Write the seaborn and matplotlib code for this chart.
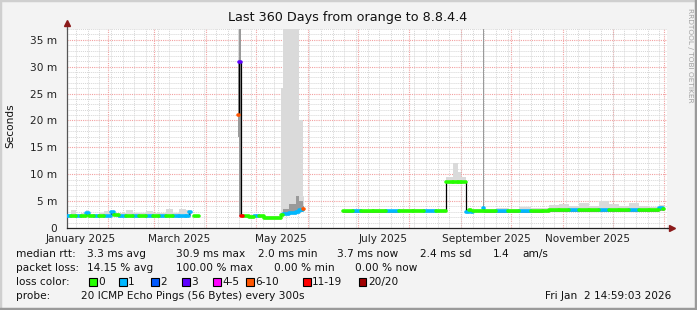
import numpy as np
import pandas as pd
import matplotlib
matplotlib.use("Agg")
import matplotlib.pyplot as plt
import matplotlib.dates as mdates
from matplotlib.ticker import MultipleLocator, FixedLocator
from matplotlib.patches import Rectangle
import seaborn as sns

sns.set_theme(style="white")
plt.rcParams['font.family'] = ['DejaVu Sans']

# ---------------- data ----------------
dates = ["2025-01-07", "2025-01-10", "2025-01-13", "2025-01-16", "2025-01-19", "2025-01-21",
         "2025-01-24", "2025-01-27", "2025-01-30", "2025-02-03", "2025-02-05", "2025-02-08",
         "2025-02-12", "2025-02-16", "2025-02-20", "2025-02-24", "2025-02-28", "2025-03-04",
         "2025-03-08", "2025-03-12", "2025-03-16", "2025-03-20", "2025-03-22", "2025-03-23",
         "2025-03-25", "2025-03-28",
         "2025-04-20", "2025-04-21", "2025-04-22", "2025-04-23", "2025-04-27", "2025-04-30",
         "2025-05-03", "2025-05-06", "2025-05-16", "2025-05-17", "2025-05-21", "2025-05-25",
         "2025-05-27", "2025-05-29", "2025-05-30",
         "2025-06-22", "2025-06-28", "2025-07-03", "2025-07-10", "2025-07-18", "2025-07-26",
         "2025-08-03", "2025-08-10", "2025-08-17", "2025-08-23", "2025-08-27", "2025-08-30",
         "2025-09-01", "2025-09-04", "2025-09-06", "2025-09-07", "2025-09-08", "2025-09-14",
         "2025-09-15", "2025-09-22", "2025-09-29", "2025-10-06", "2025-10-13", "2025-10-20",
         "2025-10-24", "2025-10-30", "2025-11-05", "2025-11-11", "2025-11-17", "2025-11-23",
         "2025-11-29", "2025-12-05", "2025-12-11", "2025-12-17", "2025-12-23", "2025-12-29",
         "2025-12-31", "2026-01-01"]

median_ms = [2.3, 2.3, 2.3, 2.3, 2.8, 2.3,
             2.3, 2.3, 2.3, 2.9, 2.4, 2.3,
             2.3, 2.3, 2.3, 2.3, 2.3, 2.3,
             2.3, 2.3, 2.3, 2.3, 3.0, np.nan,
             2.3, np.nan,
             21.0, 30.9, 2.3, 2.2, 2.1, 2.2,
             2.2, 1.9, 2.4, 2.6, 2.7, 2.9,
             3.3, 3.6, np.nan,
             3.1, 3.1, 3.1, 3.1, 3.1, 3.1,
             3.1, 3.1, 3.2, 8.6, 8.6, 8.6,
             8.6, 3.0, 3.3, 3.0, 3.1, 3.8,
             3.1, 3.1, 3.1, 3.1, 3.1, 3.1,
             3.3, 3.3, 3.3, 3.3, 3.3, 3.3,
             3.3, 3.3, 3.3, 3.3, 3.3, 3.7,
             3.5, np.nan]

loss_pings = [1, 0, 1, 0, 1, 0,
              1, 0, 1, 1, 0, 1,
              0, 1, 0, 1, 0, 1,
              0, 1, 1, 1, 1, 0,
              0, 0,
              6, 3, 12, 0, 0, 1,
              0, 0, 0, 1, 1, 1,
              1, 7, 0,
              0, 1, 0, 0, 1, 0,
              0, 1, 0, 0, 0, 0,
              0, 1, 0, 1, 0, 1,
              0, 1, 0, 1, 0, 0,
              0, 0, 1, 0, 0, 1,
              0, 0, 1, 0, 0, 1,
              0, 0]

smoke_lo = [2.2, 2.2, 2.2, 2.2, 2.2, 2.2,
            2.2, 2.2, 2.2, 2.2, 2.2, 2.2,
            2.2, 2.2, 2.2, 2.2, 2.2, 2.2,
            2.2, 2.2, 2.2, 2.2, 2.2, np.nan,
            2.2, np.nan,
            17.0, 2.3, 2.1, 2.1, 2.0, 2.0,
            2.0, 1.8, 2.3, 2.4, 2.6, 2.8,
            3.0, 3.2, np.nan,
            2.7, 2.8, 2.8, 2.8, 2.8, 2.9,
            2.9, 2.9, 2.9, 8.3, 8.3, 8.3,
            8.3, 2.8, 2.9, 2.8, 2.9, 3.0,
            2.8, 2.8, 2.8, 2.8, 2.8, 2.9,
            3.0, 3.0, 3.0, 3.0, 3.0, 3.0,
            3.0, 3.0, 3.0, 3.0, 3.0, 3.2,
            3.2, np.nan]

smoke_mid = [2.4, 2.4, 2.4, 2.4, 2.9, 2.4,
             2.4, 2.4, 2.4, 3.0, 2.5, 2.4,
             2.4, 2.4, 2.4, 2.4, 2.4, 2.4,
             2.4, 2.4, 2.4, 2.4, 3.1, np.nan,
             2.4, np.nan,
             31.0, 37.3, 2.4, 2.3, 2.2, 2.3,
             2.3, 2.0, 2.8, 3.5, 4.5, 6.0,
             5.0, 4.0, np.nan,
             3.2, 3.2, 3.2, 3.2, 3.2, 3.2,
             3.2, 3.2, 3.3, 8.8, 8.8, 8.8,
             8.8, 3.2, 3.4, 3.2, 3.2, 37.3,
             3.3, 3.2, 3.2, 3.3, 3.3, 3.3,
             3.5, 3.5, 3.5, 3.5, 3.5, 3.5,
             3.5, 3.5, 3.5, 3.5, 3.5, 3.9,
             3.7, np.nan]

smoke_hi = [2.6, 3.3, 2.6, 2.7, 3.4, 2.6,
            2.6, 2.7, 3.2, 3.0, 2.7, 2.7,
            3.3, 2.7, 2.7, 3.2, 2.8, 2.7,
            3.5, 2.8, 3.6, 3.4, 3.2, np.nan,
            2.5, np.nan,
            37.3, 37.3, 2.6, 2.5, 2.4, 2.5,
            2.4, 2.2, 26.0, 37.3, 37.3, 37.3,
            20.0, 6.0, np.nan,
            3.4, 3.5, 3.4, 3.5, 3.4, 3.5,
            3.6, 3.5, 3.6, 9.5, 12.0, 10.5,
            9.4, 3.6, 3.7, 3.5, 3.6, 37.3,
            3.6, 3.8, 3.6, 3.9, 3.7, 3.8,
            4.2, 4.4, 4.0, 4.6, 4.1, 5.0,
            4.4, 4.1, 4.7, 4.0, 3.9, 4.3,
            4.2, np.nan]

loss_labels = ["0", "1", "2", "3", "4-5", "6-10", "11-19", "20/20"]
loss_colors = ["#26ff00", "#00b8ff", "#0059ff", "#5e00ff", "#ff00ff", "#ff5500", "#ff0000", "#a00000"]

y_ticks_ms = [0, 5, 10, 15, 20, 25, 30, 35]
x_label_dates = ["2025-01-16", "2025-03-16", "2025-05-16", "2025-07-16", "2025-09-16", "2025-11-16"]
x_label_texts = ["January 2025", "March 2025", "May 2025", "July 2025", "September 2025", "November 2025"]

# ---------------- helpers ----------------
def loss_cat(n):
    if n <= 3:
        return loss_labels[n]
    if n <= 5:
        return "4-5"
    if n <= 10:
        return "6-10"
    if n <= 19:
        return "11-19"
    return "20/20"

t = pd.to_datetime(dates)
tn = mdates.date2num(t)
med = np.array(median_ms, dtype=float)
lo = np.array(smoke_lo, dtype=float)
mid = np.array(smoke_mid, dtype=float)
hi = np.array(smoke_hi, dtype=float)

rows = []
for i in range(len(dates) - 1):
    if np.isnan(med[i]):
        continue
    c = loss_cat(loss_pings[i])
    rows.append(dict(x=t[i], y=med[i], seg=i, cat=c))
    rows.append(dict(x=t[i + 1], y=med[i], seg=i, cat=c))
seg_df = pd.DataFrame(rows)

# ---------------- figure ----------------
W, H = 697, 310
fig = plt.figure(figsize=(W / 100, H / 100), dpi=100, facecolor="#f3f3f3")
ax = fig.add_axes([67 / W, (H - 228) / H, 600 / W, 199 / H])
ax.set_facecolor("white")

x0 = pd.Timestamp("2025-01-07 15:00")
x1 = pd.Timestamp("2026-01-02 15:00")
ax.set_xlim(x0, x1)
ax.set_ylim(0, 37.0)

# grid
grid_minor = "#d6d6d6"
grid_major = "#f2a0a0"
ax.yaxis.set_minor_locator(MultipleLocator(1))
ax.yaxis.set_major_locator(FixedLocator(y_ticks_ms))
ax.xaxis.set_minor_locator(mdates.WeekdayLocator(byweekday=mdates.MO))
ax.grid(which="minor", axis="both", color=grid_minor, linestyle=(0, (1, 1)), linewidth=0.7)
for v in y_ticks_ms[1:]:
    ax.axhline(v, color=grid_major, linestyle=(0, (1, 1)), linewidth=0.8, zorder=0.5)
for m in pd.date_range("2025-02-01", "2026-01-01", freq="MS"):
    ax.axvline(m, color=grid_major, linestyle=(0, (1, 1)), linewidth=0.8, zorder=0.5)

# smoke
valid = ~np.isnan(med[:-1])
widths = np.diff(tn)
ax.bar(tn[:-1][valid], (hi - lo)[:-1][valid], width=widths[valid], bottom=lo[:-1][valid],
       align="edge", color="#dadada", linewidth=0, zorder=1)
ax.bar(tn[:-1][valid], (mid - lo)[:-1][valid], width=widths[valid], bottom=lo[:-1][valid],
       align="edge", color="#9a9a9a", linewidth=0, zorder=1.1)

# median line
ax.step(t, med, where="post", color="black", linewidth=0.9, zorder=2)
sns.lineplot(data=seg_df, x="x", y="y", hue="cat", units="seg", estimator=None,
             palette=dict(zip(loss_labels, loss_colors)), linewidth=2.6, legend=False,
             ax=ax, zorder=3)

# axes styling
for s in ["top", "right"]:
    ax.spines[s].set_visible(False)
ax.spines["left"].set_color("#555555")
ax.spines["bottom"].set_color("#222222")
ax.spines["left"].set_linewidth(0.9)
ax.spines["bottom"].set_linewidth(0.9)
ax.plot([0, 0], [1, 1.03], transform=ax.transAxes, color="#555555", lw=0.9, clip_on=False)
ax.plot([1, 1.008], [0, 0], transform=ax.transAxes, color="#222222", lw=0.9, clip_on=False)
ax.plot([0], [1.03], marker="^", color="#8b1a1a", markersize=4, transform=ax.transAxes, clip_on=False)
ax.plot([1.008], [0], marker=">", color="#8b1a1a", markersize=4, transform=ax.transAxes, clip_on=False)

ax.set_yticklabels(["0" if v == 0 else f"{v} m" for v in y_ticks_ms])
ax.set_xticks(pd.to_datetime(x_label_dates))
ax.set_xticklabels(x_label_texts)
ax.tick_params(axis="both", which="both", length=0, labelsize=7.6, colors="#222222")
ax.tick_params(axis="x", pad=4)
ax.tick_params(axis="y", pad=7)
ax.set_xlabel("")
ax.set_ylabel("")

fs = 7.6
fig.text(348 / W, 1 - 18 / H, "Last 360 Days from orange to 8.8.4.4", ha="center", va="center",
         fontsize=9.2, color="#111111")
fig.text(10 / W, 1 - 126 / H, "Seconds", rotation=90, ha="center", va="center", fontsize=fs, color="#111111")
fig.text(690 / W, 1 - 8 / H, "RRDTOOL / TOBI OETIKER", rotation=-90, ha="center", va="top",
         fontsize=5.3, color="#a0a0a0")

def put(x, y, s, **kw):
    fig.text(x / W, 1 - y / H, s, ha="left", va="center", fontsize=fs, color="#111111", **kw)

put(16, 254, "median rtt:")
put(87, 254, "3.3 ms avg")
put(176, 254, "30.9 ms max")
put(258, 254, "2.0 ms min")
put(337, 254, "3.7 ms now")
put(420, 254, "2.4 ms sd")
put(493, 254, "1.4")
put(522, 254, "am/s")

put(16, 268, "packet loss:")
put(87, 268, "14.15 % avg")
put(176, 268, "100.00 % max")
put(274, 268, "0.00 % min")
put(355, 268, "0.00 % now")

put(16, 282, "loss color:")
sw_x = [89, 119, 151, 182, 213, 246, 303, 359]
for xs, lab, col in zip(sw_x, loss_labels, loss_colors):
    fig.patches.append(Rectangle((xs / W, 1 - 286 / H), 7.5 / W, 8 / H, transform=fig.transFigure,
                                 facecolor=col, edgecolor="black", linewidth=0.8))
    put(xs + 9, 282, lab)

put(16, 296, "probe:")
put(81, 296, "20 ICMP Echo Pings (56 Bytes) every 300s")
put(545, 296, "Fri Jan  2 14:59:03 2026")

# outer frame (3D-like border)
fig.patches.append(Rectangle((0, 0), 1, 1, transform=fig.transFigure, fill=False,
                             edgecolor="#cfcfcf", linewidth=2.5))
fig.add_artist(plt.Line2D([1 - 1 / W, 1 - 1 / W], [0, 1], transform=fig.transFigure, color="#9a9a9a", lw=2.5))
fig.add_artist(plt.Line2D([0, 1], [1 / H, 1 / H], transform=fig.transFigure, color="#9a9a9a", lw=2.5))

fig.savefig("out.png", dpi=100, facecolor=fig.get_facecolor())
